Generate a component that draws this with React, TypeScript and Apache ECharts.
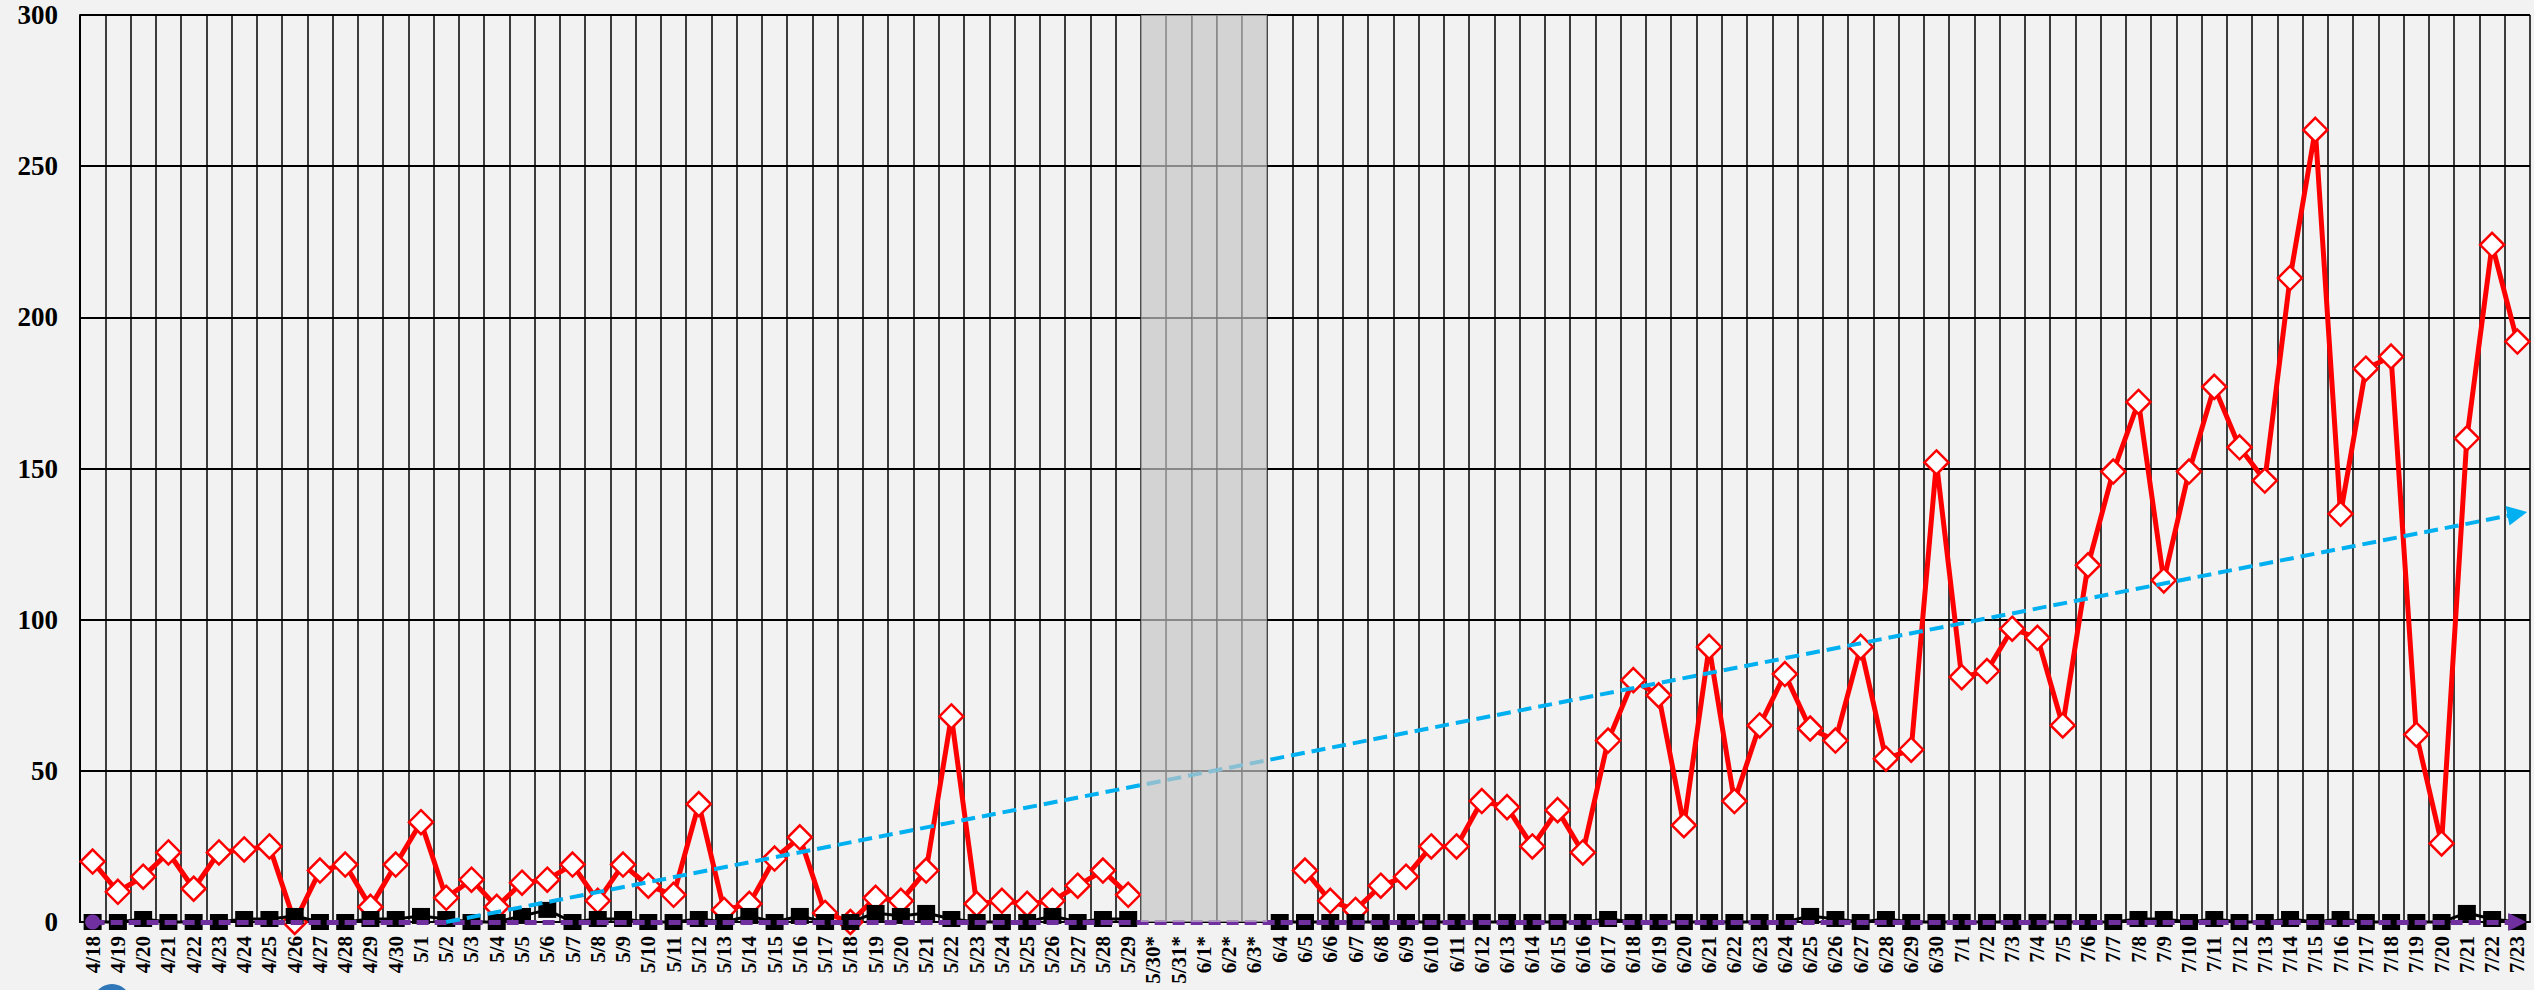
import React, { useEffect, useRef } from 'react';
import * as echarts from 'echarts';

const categories = [
  '4/18', '4/19', '4/20', '4/21', '4/22', '4/23', '4/24', '4/25', '4/26', '4/27', '4/28', '4/29', '4/30',
  '5/1', '5/2', '5/3', '5/4', '5/5', '5/6', '5/7', '5/8', '5/9', '5/10', '5/11', '5/12', '5/13', '5/14', '5/15',
  '5/16', '5/17', '5/18', '5/19', '5/20', '5/21', '5/22', '5/23', '5/24', '5/25', '5/26', '5/27', '5/28', '5/29',
  '5/30*', '5/31*', '6/1*', '6/2*', '6/3*',
  '6/4', '6/5', '6/6', '6/7', '6/8', '6/9', '6/10', '6/11', '6/12', '6/13', '6/14', '6/15', '6/16', '6/17',
  '6/18', '6/19', '6/20', '6/21', '6/22', '6/23', '6/24', '6/25', '6/26', '6/27', '6/28', '6/29', '6/30',
  '7/1', '7/2', '7/3', '7/4', '7/5', '7/6', '7/7', '7/8', '7/9', '7/10', '7/11', '7/12', '7/13', '7/14',
  '7/15', '7/16', '7/17', '7/18', '7/19', '7/20', '7/21', '7/22', '7/23',
];

// red series (diamonds)
const redValues: (number | null)[] = [
  20, 10, 15, 23, 11, 23, 24, 25, 0, 17, 19, 5, 19,
  33, 8, 14, 5, 13, 14, 19, 7, 19, 12, 9, 39, 4, 6, 21,
  28, 3, 0, 8, 7, 17, 68, 6, 7, 6, 7, 12, 17, 9,
  null, null, null, null, null,
  null, 17, 7, 4, 12, 15, 25, 25, 40, 38, 25, 37, 23, 60,
  80, 75, 32, 91, 40, 65, 82, 64, 60, 91, 54, 57, 152,
  81, 83, 97, 94, 65, 118, 149, 172, 113, 149, 177, 157, 146, 213,
  262, 135, 183, 187, 62, 26, 160, 224, 192,
];

// black series (squares)
const blackValues: (number | null)[] = [
  0, 0, 1, 0, 0, 0, 1, 1, 2, 0, 0, 1, 1,
  2, 1, 0, 0, 2, 4, 0, 1, 1, 0, 0, 1, 0, 2, 0,
  2, 0, 0, 3, 2, 3, 1, 0, 0, 0, 2, 0, 1, 1,
  null, null, null, null, null,
  0, 0, 0, 0, 0, 0, 0, 0, 0, 0, 0, 0, 0, 1,
  0, 0, 0, 0, 0, 0, 0, 2, 1, 0, 1, 0, 0,
  0, 0, 0, 0, 0, 0, 0, 1, 1, 0, 1, 0, 0, 1,
  0, 1, 0, 0, 0, 0, 3, 1, 0,
];

const yTicks = { min: 0, max: 300, interval: 50 };

// trend lines
const blueTrendStart: [string, number] = ['5/2', 0];
const blueTrendEnd: [string, number] = ['7/23', 135];
const purpleTrendStart: [string, number] = ['4/18', 0];
const purpleTrendEnd: [string, number] = ['7/23', 0];

const grayBand = categories.map((c) => (c.endsWith('*') ? yTicks.max : null));

const FONT = '"Liberation Serif", "Times New Roman", serif';

export default function App() {
  const ref = useRef<HTMLDivElement>(null);

  useEffect(() => {
    document.body.style.margin = '0';
    document.body.style.background = '#f2f2f2';
    const chart = echarts.init(ref.current!, undefined, { renderer: 'svg' });
    chart.setOption({
      animation: false,
      backgroundColor: '#f2f2f2',
      grid: { left: 80, right: 4, top: 15, bottom: 68 },
      xAxis: {
        type: 'category',
        data: categories,
        boundaryGap: true,
        axisLine: { show: true, lineStyle: { color: '#000', width: 2 } },
        axisTick: { show: false },
        axisLabel: {
          interval: 0,
          rotate: 90,
          margin: 14,
          color: '#000',
          fontFamily: FONT,
          fontWeight: 'bold',
          fontSize: 21,
        },
        splitLine: { show: true, interval: 0, lineStyle: { color: '#000', width: 1.5 } },
      },
      yAxis: {
        type: 'value',
        min: yTicks.min,
        max: yTicks.max,
        interval: yTicks.interval,
        axisLine: { show: true, lineStyle: { color: '#000', width: 2 } },
        axisTick: { show: false },
        axisLabel: {
          margin: 22,
          color: '#000',
          fontFamily: FONT,
          fontWeight: 'bold',
          fontSize: 27,
        },
        splitLine: { show: true, lineStyle: { color: '#000', width: 2 } },
      },
      graphic: [
        {
          type: 'circle',
          shape: { cx: 112, cy: 1003, r: 19 },
          style: { fill: '#2f77b8' },
          silent: true,
        },
      ],
      series: [
        {
          name: 'red',
          type: 'line',
          data: redValues,
          connectNulls: false,
          symbol: 'diamond',
          symbolSize: 24,
          showAllSymbol: true,
          lineStyle: { color: '#ff0000', width: 5 },
          itemStyle: { color: '#ffffff', borderColor: '#ff0000', borderWidth: 2.5 },
          z: 4,
          silent: true,
        },
        {
          name: 'black',
          type: 'line',
          data: blackValues,
          connectNulls: false,
          symbol: 'rect',
          symbolSize: [18, 16],
          showAllSymbol: true,
          clip: false,
          lineStyle: { color: '#000', width: 3 },
          itemStyle: { color: '#000' },
          z: 5,
          silent: true,
        },
        {
          name: 'purpleTrend',
          type: 'line',
          data: [],
          clip: false,
          z: 7,
          markLine: {
            z: 8,
            silent: true,
            symbol: ['circle', 'triangle'],
            symbolSize: 16,
            label: { show: false },
            lineStyle: { color: '#7030a0', width: 5, type: [12, 6], opacity: 1 },
            itemStyle: { color: '#7030a0' },
            emphasis: { disabled: true },
            data: [[
              { coord: purpleTrendStart, symbolSize: 15 },
              { coord: purpleTrendEnd, symbolSize: 18 },
            ]],
          },
        },
        {
          name: 'blueTrend',
          type: 'line',
          data: [],
          clip: false,
          z: 7,
          markLine: {
            z: 8,
            silent: true,
            symbol: ['none', 'triangle'],
            symbolSize: 20,
            label: { show: false },
            lineStyle: { color: '#00b0f0', width: 4, type: [14, 7] },
            itemStyle: { color: '#00b0f0' },
            emphasis: { disabled: true },
            data: [[
              { coord: blueTrendStart, symbolSize: 1 },
              { coord: blueTrendEnd, symbolSize: 20 },
            ]],
          },
        },
        {
          name: 'gap',
          type: 'bar',
          data: grayBand,
          barWidth: '100%',
          barGap: '0%',
          itemStyle: { color: 'rgba(197,197,197,0.69)' },
          z: 10,
          silent: true,
        },
      ],
    });
    return () => chart.dispose();
  }, []);

  return <div ref={ref} style={{ width: 2534, height: 990 }} />;
}
